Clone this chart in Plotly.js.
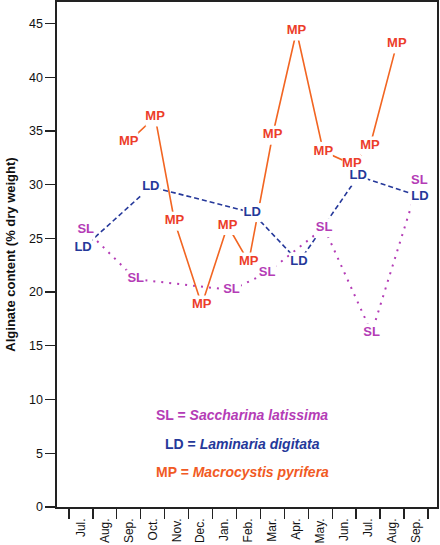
<!DOCTYPE html>
<html><head><meta charset="utf-8">
<script src="https://cdn.plot.ly/plotly-3.0.1.min.js"></script>
<style>html,body{margin:0;padding:0;background:#fff}#chart{width:440px;height:545px}</style>
</head><body><div id="chart"></div>
<script>
// Month tick labels (Jul. year 1 ... Sep. year 2)
const monthLabels = ['Jul.','Aug.','Sep.','Oct.','Nov.','Dec.','Jan.','Feb.','Mar.','Apr.','May.','Jun.','Jul.','Aug.','Sep.'];

// Sampling time (month index, Jul. = 0) and alginate content (% dry weight)
const slX = [0.20, 2.29, 6.29, 7.78, 10.16, 12.15, 14.14];
const slY = [25.8, 21.2, 20.2, 21.8, 26.0, 16.2, 30.4];
const ldX = [0.09, 2.92, 7.16, 9.11, 11.59, 14.17];
const ldY = [24.1, 29.8, 27.4, 22.8, 30.8, 28.9];
const mpX = [2.00, 3.10, 3.91, 5.05, 6.13, 7.01, 8.01, 9.01, 10.13, 11.32, 12.08, 13.20];
const mpY = [34.0, 36.3, 26.6, 18.8, 26.2, 22.8, 34.6, 44.3, 33.1, 31.9, 33.6, 43.1];

const seriesCodes = ['SL', 'LD', 'MP'];
const speciesNames = ['Saccharina latissima', 'Laminaria digitata', 'Macrocystis pyrifera'];

const FONT = 'Liberation Sans, Arial, Helvetica, sans-serif';
const series = [
  {code: seriesCodes[0], x: slX, y: slY, line: '#B43CB6', text: '#B43CB6', legend: '#B43CB6', dash: '2px,6px', width: 2},
  {code: seriesCodes[1], x: ldX, y: ldY, line: '#25389A', text: '#25389A', legend: '#25389A', dash: '5px,3px', width: 1.6},
  {code: seriesCodes[2], x: mpX, y: mpY, line: '#F26522', text: '#EC3D2A', legend: '#F15A24', dash: 'solid', width: 1.6}
];

const traces = [];
series.forEach(s => traces.push({
  type: 'scatter', mode: 'lines', x: s.x, y: s.y,
  line: {color: s.line, width: s.width, dash: s.dash},
  hoverinfo: 'skip', showlegend: false, cliponaxis: false
}));
series.forEach(s => traces.push({
  type: 'scatter', mode: 'markers', x: s.x, y: s.y,
  marker: {symbol: 'square', size: 19, color: '#ffffff', line: {width: 0}},
  hoverinfo: 'skip', showlegend: false, cliponaxis: false
}));
series.forEach(s => traces.push({
  type: 'scatter', mode: 'text', x: s.x, y: s.y,
  text: s.x.map(() => s.code), textposition: 'middle center',
  textfont: {family: FONT, size: 13, color: s.text, weight: 'bold'},
  hoverinfo: 'skip', showlegend: false, cliponaxis: false
}));

const tickIdx = monthLabels.map((_, i) => i);
const boundaries = monthLabels.map((_, i) => i - 0.5).concat([monthLabels.length - 0.5]);

const legendY = [0.182, 0.125, 0.069];
const annotations = series.map((s, i) => ({
  xref: 'paper', yref: 'paper', x: 0.487, y: legendY[i],
  xanchor: 'center', yanchor: 'middle', showarrow: false,
  text: '<b>' + s.code + ' = <i>' + speciesNames[i] + '</i></b>',
  font: {family: FONT, size: 14, color: s.legend}
}));

const layout = {
  width: 440, height: 545,
  margin: {l: 57, r: 3, t: 2, b: 38},
  paper_bgcolor: '#ffffff', plot_bgcolor: '#ffffff',
  showlegend: false,
  font: {family: FONT, size: 12.5, color: '#111'},
  xaxis: {
    range: [-1.0, 14.88], tickmode: 'array', tickvals: tickIdx, ticktext: monthLabels,
    tickangle: -90, ticks: 'outside', ticklen: 5, tickcolor: 'rgba(0,0,0,0)',
    minor: {tickmode: 'array', tickvals: boundaries, ticks: 'outside', ticklen: 10, tickwidth: 1.3, tickcolor: '#222', showgrid: false},
    showline: true, linecolor: '#222', linewidth: 1.6, mirror: true,
    showgrid: false, zeroline: false, tickfont: {family: FONT, size: 12, color: '#111'}
  },
  yaxis: {
    range: [0, 47], tickmode: 'linear', tick0: 0, dtick: 5,
    ticks: 'outside', ticklen: 10, tickwidth: 1.3, tickcolor: '#222',
    showline: true, linecolor: '#222', linewidth: 1.6, mirror: true,
    showgrid: false, zeroline: false, tickfont: {family: FONT, size: 12.5, color: '#111'},
    title: {text: '<b>Alginate content (% dry weight)</b>', font: {family: FONT, size: 13, color: '#111'}, standoff: 10}
  },
  annotations: annotations
};

Plotly.newPlot('chart', traces, layout, {staticPlot: true, displayModeBar: false});
</script>
</body></html>
